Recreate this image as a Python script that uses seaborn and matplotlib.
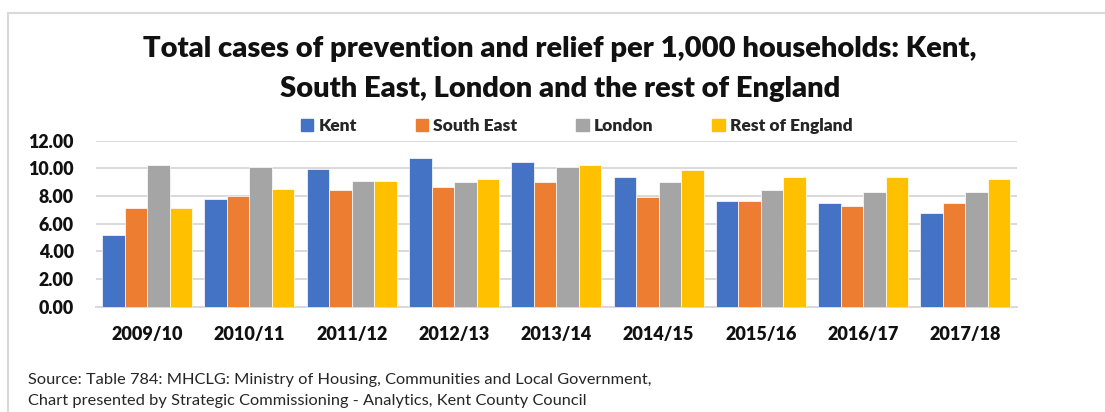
import matplotlib
matplotlib.use("Agg")
import matplotlib.pyplot as plt
import matplotlib.patches as mpatches
import seaborn as sns
import pandas as pd
from matplotlib.ticker import FormatStrFormatter

years = ["2009/10", "2010/11", "2011/12", "2012/13", "2013/14",
         "2014/15", "2015/16", "2016/17", "2017/18"]
kent = [5.20, 7.77, 9.99, 10.72, 10.48, 9.36, 7.65, 7.52, 6.80]
south_east = [7.16, 8.01, 8.40, 8.64, 9.00, 7.91, 7.65, 7.28, 7.52]
london = [10.23, 10.09, 9.12, 9.00, 10.09, 9.00, 8.40, 8.27, 8.27]
rest_of_england = [7.16, 8.52, 9.12, 9.24, 10.23, 9.87, 9.36, 9.36, 9.24]

areas = ["Kent", "South East", "London", "Rest of England"]
colors = ["#4472C4", "#ED7D31", "#A5A5A5", "#FFC000"]

rows = []
for name, vals in zip(areas, [kent, south_east, london, rest_of_england]):
    for yr, v in zip(years, vals):
        rows.append({"Year": yr, "Area": name, "Value": v})
df = pd.DataFrame(rows)

sns.set_theme(style="white")
plt.rcParams["font.family"] = ["Lato", "DejaVu Sans"]

fig = plt.figure(figsize=(11.05, 4.12), dpi=100)
ax = fig.add_axes([0.0869, 0.2556, 0.8331, 0.4029])

sns.barplot(data=df, x="Year", y="Value", hue="Area", hue_order=areas,
            palette=colors, width=0.88, edgecolor="white", linewidth=0.5,
            saturation=1, ax=ax, legend=False, zorder=3)

ax.set_ylim(0, 12)
ax.set_yticks(range(0, 13, 2))
ax.yaxis.set_major_formatter(FormatStrFormatter("%.2f"))
ax.set_xlim(-0.5, len(years) - 0.5)
ax.grid(axis="y", color="#D9D9D9", linewidth=1.4, zorder=0)
ax.set_axisbelow(True)
for side in ["top", "right", "left"]:
    ax.spines[side].set_visible(False)
ax.spines["bottom"].set_color("#D9D9D9")
ax.spines["bottom"].set_linewidth(1.4)
ax.set_xlabel("")
ax.set_ylabel("")
ax.tick_params(axis="both", length=0, colors="#111111")
ax.tick_params(axis="x", pad=14, labelsize=13)
ax.tick_params(axis="y", pad=16, labelsize=12.8)
for lbl in ax.get_xticklabels() + ax.get_yticklabels():
    lbl.set_fontweight("heavy")

fig.text(0.507, 0.88, "Total cases of prevention and relief per 1,000 households: Kent,",
         ha="center", va="center", fontsize=21, fontweight="heavy", color="#111111")
fig.text(0.507, 0.785, "South East, London and the rest of England",
         ha="center", va="center", fontsize=21, fontweight="heavy", color="#111111")

handles = [mpatches.Patch(color=c, label=a) for a, c in zip(areas, colors)]
leg = fig.legend(handles=handles, loc="center", bbox_to_anchor=(0.522, 0.695),
                 ncol=4, frameon=False, handlelength=0.7, handleheight=0.7,
                 handletextpad=0.3, columnspacing=3.4,
                 prop={"size": 12.5, "weight": "heavy"})

fig.text(0.025, 0.077, "Source: Table 784: MHCLG: Ministry of Housing, Communities and Local Government,",
         fontsize=11.8, color="#262626", va="center")
fig.text(0.025, 0.026, "Chart presented by Strategic Commissioning - Analytics, Kent County Council",
         fontsize=11.8, color="#262626", va="center")

frame = mpatches.Rectangle((8 / 1105, -0.1), 1.2, 1 - 13 / 412 + 0.1,
                           transform=fig.transFigure, fill=False,
                           edgecolor="#D9D9D9", linewidth=1.5)
fig.patches.append(frame)

fig.savefig("out.png", dpi=100)
